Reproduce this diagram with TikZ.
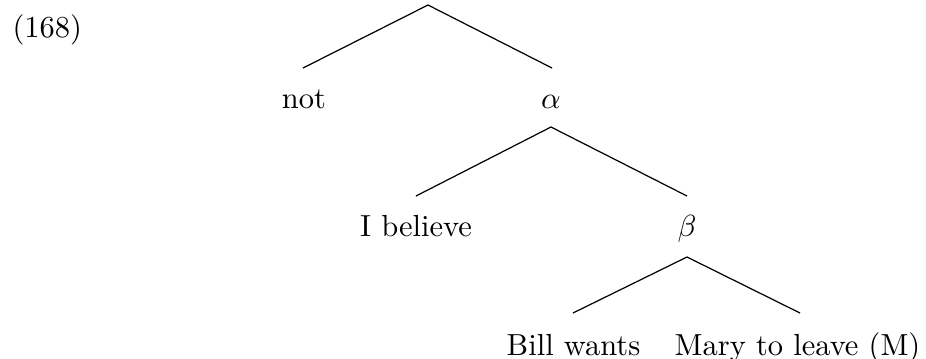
\documentclass[tikz,border=0pt]{standalone}
\usepackage{amsmath}
\usepackage{amssymb}
\usetikzlibrary{positioning}

\begin{document}
\begin{tikzpicture}[
  x=0.328pt, y=-0.328pt,
  lbl/.style={anchor=base, inner sep=0pt},
  branch/.style={line width=0.4pt}
]
\useasboundingbox (0,0) rectangle (926,358);
\node[lbl, anchor=base west] (num) at (12,37) {(168)};
\coordinate (root) at (428,5);
\coordinate (notend) at (303,68);
\coordinate (alphaend) at (552,68);
\node[lbl] (not) at (304,108) {not};
\node[lbl] (alpha) at (551,108) {$\alpha$};
\coordinate (alphatop) at (551,127);
\coordinate (believeend) at (416,196);
\coordinate (betaend) at (687,196);
\node[lbl] (believe) at (416,236) {I believe};
\node[lbl] (beta) at (687,236) {$\beta$};
\coordinate (betatop) at (687,257);
\coordinate (billend) at (573,313);
\coordinate (maryend) at (800,313);
\node[lbl] (bill) at (573.5,355) {Bill wants};
\node[lbl] (mary) at (797.5,355) {Mary to leave (M)};
\draw[branch] (notend)--(root)--(alphaend);
\draw[branch] (believeend)--(alphatop)--(betaend);
\draw[branch] (billend)--(betatop)--(maryend);
\end{tikzpicture}
\end{document}
